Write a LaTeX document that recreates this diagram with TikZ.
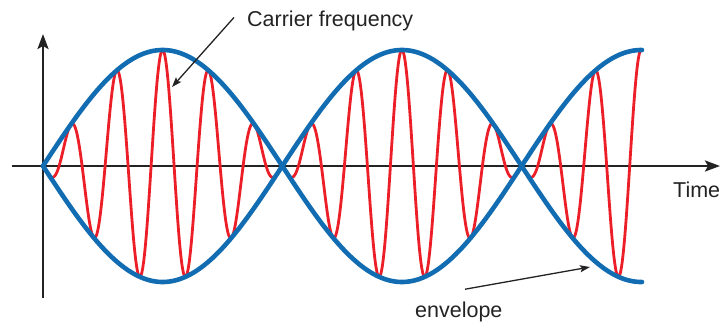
\documentclass[tikz,border=0pt]{standalone}
\usepackage{fontspec}
\setmainfont{Liberation Sans}
\usepackage{tikz}
\usetikzlibrary{arrows.meta}

\definecolor{envblue}{RGB}{18,108,178}
\definecolor{carred}{RGB}{236,30,40}
\definecolor{inkgray}{RGB}{35,35,35}

\tikzset{
  axisline/.style={inkgray, line width=2.6pt, -{Stealth[length=15pt,width=11pt,inset=3pt]}},
  pointer/.style={inkgray, line width=1.3pt, -{Stealth[length=10pt,width=7pt,inset=2pt]}},
  envcurve/.style={envblue, line width=4.6pt, line cap=round},
  carcurve/.style={carred, line width=2.8pt, line join=round},
  label/.style={inkgray, font=\fontsize{21.5}{24}\selectfont, inner sep=0pt}
}

\begin{document}
\begin{tikzpicture}[x=1pt, y=1pt]
  % page = 721 x 327, origin where the axes cross
  \useasboundingbox (-43,-161) rectangle (678,166);

  % axes
  \coordinate (ybot) at (0,-132);
  \coordinate (ytop) at (0,132);
  \coordinate (xleft) at (-31,0);
  \coordinate (xright) at (677,0);
  \draw[axisline] (ybot) -- (ytop);
  \draw[axisline] (xleft) -- (xright);

  % carrier (red), one lobe of the envelope after another
  \draw[carcurve] plot[domain=0:598, samples=1200]
    (\x, {116*abs(sin(\x/239.3*180))*cos((\x-119.6-239.3*floor(\x/239.3))/46*360)});

  % envelope (blue)
  \draw[envcurve] plot[domain=0:599, samples=300] (\x, {116*sin(\x/239.3*180)});
  \draw[envcurve] plot[domain=0:599, samples=300] (\x, {-116*sin(\x/239.3*180)});

  % labels
  \node[label, anchor=base west] (time) at (630,-31) {Time};
  \node[label, anchor=base west] (carrier) at (204,140) {Carrier frequency};
  \node[label, anchor=base west] (envelope) at (372,-151) {envelope};

  \coordinate (carriertip) at (129,79);
  \coordinate (envtip) at (547,-101);
  \draw[pointer] ([xshift=-13pt,yshift=3pt]carrier.west) -- (carriertip);
  \draw[pointer] ([xshift=50pt,yshift=12pt]envelope.north west) -- (envtip);
\end{tikzpicture}
\end{document}
